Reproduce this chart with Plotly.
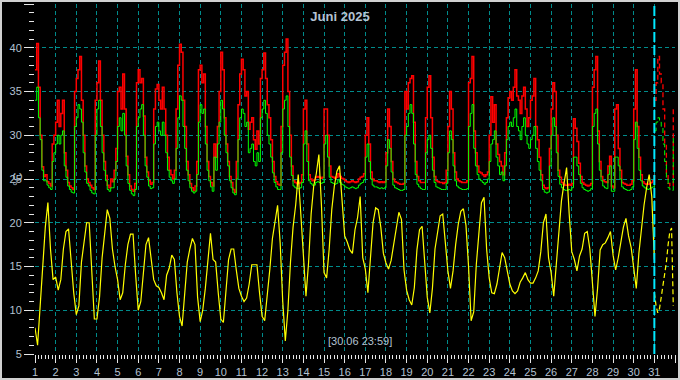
import pandas as pd
import plotly.graph_objects as go

# ---------------- data ----------------
month_start = "2025-06-01"
now_label = "[30.06 23:59]"
title_text = "Juni 2025"
unit_label = "°C"
now_day = 31  # day axis position of 30.06 23:59 end

# red series, 2-hourly values 01.06 00:00 ... 01.07 00:00
red = [
    37.5, 40.5, 35.5, 30, 26.4, 25.3, 25.5, 24.7, 24.5, 24.2, 29, 30,
    31.5, 34, 31, 32.5, 34, 28, 26, 24.6, 24.2, 24, 23.8, 35,
    36.5, 37.5, 39, 34, 30, 26.5, 25, 24.6, 24.3, 24, 23.8, 34,
    36, 38.5, 34, 30, 27, 25.4, 24.3, 24, 25, 24.7, 26, 28.5,
    35, 35.5, 33, 37, 33, 27.6, 25.5, 24.2, 23.8, 23.6, 24.5, 36,
    37.5, 36, 36.5, 32.2, 27.5, 25.8, 24.8, 24.4, 24.6, 33, 35.3, 35.8,
    34, 33, 35.5, 33, 30, 27.5, 26, 25.5, 25, 26, 33, 38,
    40.4, 39.5, 34, 31, 27, 25.5, 24.5, 24, 23.7, 24.2, 27, 37.5,
    38, 36, 37, 31, 27, 25.3, 24.6, 24.2, 29, 27.5, 31, 35,
    39.5, 37.5, 32, 29, 27, 25.3, 24.6, 23.8, 23.5, 27, 33.5, 37,
    38.7, 37.5, 34.5, 35, 30.7, 31.5, 32, 29.5, 28.4, 30.5, 29, 36.5,
    37.5, 39.4, 36.5, 33.5, 32, 29.5, 27, 25.3, 24.7, 24.4, 24.3, 31,
    38, 39.5, 41, 35, 30, 26.5, 24.8, 24.6, 24.5, 24.5, 24.6, 25.5,
    33, 34, 29, 25.5, 25, 24.8, 24.9, 25.2, 25.3, 25.2, 25.1, 25.2,
    33, 33, 30, 26.5, 25.3, 25.2, 25.1, 25.2, 25.6, 25.3, 25.1, 25,
    24.8, 24.7, 24.6, 24.7, 24.8, 24.7, 24.6, 24.7, 25, 25.2, 25.3, 25.6,
    30, 32, 29, 25.8, 25, 24.8, 24.8, 24.7, 24.6, 24.7, 24.6, 24.7,
    28, 33, 31, 27, 25, 24.7, 24.6, 24.5, 24.4, 24.4, 24.5, 35,
    33, 36, 36.5, 36.8, 31.5, 27, 25.3, 24.8, 24.6, 24.6, 24.6, 32,
    35.5, 36.8, 32, 27.5, 25.3, 24.8, 24.7, 24.6, 24.6, 24.5, 24.6, 26,
    31, 35, 33, 28, 25.8, 25, 24.8, 24.7, 24.6, 24.6, 24.6, 24.8,
    36, 36.5, 39, 30.5, 28, 26.5, 25.8, 25.7, 25.5, 25.3, 25.5, 25.8,
    30, 34.4, 31.5, 33.5, 29, 27.8, 27, 26.5, 25.5, 28, 32, 34.3,
    35, 34, 35.5, 37.5, 34.5, 34, 32.5, 34.5, 35.5, 33, 31, 32,
    34, 34.5, 36.5, 31, 29.5, 27.5, 25.5, 24.3, 24, 23.9, 24, 28.5,
    33, 36, 35, 30, 26, 25.2, 24.6, 24.4, 24.3, 24.3, 24.4, 24.3,
    24.5, 31.9, 30.8, 29.3, 26.8, 25.3, 24.6, 24.4, 24.3, 24.2, 24.3, 24.5,
    35.5, 37.5, 39, 30.5, 27, 25.3, 24.8, 24.7, 24.6, 26.5, 27.6, 24.2,
    24, 33, 33.5, 28.5, 26, 24.6, 24.5, 24.4, 24.3, 24.3, 24.4, 24.8,
    33, 37.5, 31, 27.5, 25.5, 24.7, 24.5, 24.4, 24.4, 24.5, 24.6, 24.8,
    25.5,
]

# green series, same 2-hourly timestamps
green = [
    34, 35.5, 32, 29.5, 26, 24.8, 24.8, 24.3, 24, 23.8, 27, 28,
    29, 30, 29, 30, 30.5, 26.5, 25.2, 24.2, 23.8, 23.5, 23.4, 31,
    32, 33.5, 33, 31.5, 28, 25.8, 24.5, 24.2, 23.7, 23.4, 23.3, 30,
    33, 34, 31, 28, 26, 24.8, 23.8, 23.6, 24, 24, 25, 27,
    31, 32, 30.5, 32.5, 30, 26.5, 24.5, 23.7, 23.3, 23.1, 23.8, 31,
    32, 33, 33.5, 30, 26.5, 25.2, 24.2, 23.9, 24, 29, 31, 31.5,
    30.5, 30, 31.5, 30, 28, 26, 25.2, 24.8, 24.5, 25, 28.5, 32,
    34.5, 34, 31, 28.5, 26, 24.8, 24, 23.6, 23.4, 23.6, 25.5, 31.5,
    33.5, 32.5, 33, 29, 26, 24.8, 24.1, 23.6, 27.5, 26, 29, 31.5,
    34, 33, 30, 28, 26.5, 24.8, 24, 23.4, 23.2, 25, 29.5, 32,
    33, 32.5, 31, 31.5, 28, 28.5, 29, 27, 26.5, 28, 27, 32,
    33, 34, 32.5, 30, 29, 27.5, 25.7, 24.6, 24.1, 23.8, 23.8, 28,
    33, 34, 34.5, 31, 27.5, 25.4, 24.2, 24, 23.9, 23.9, 24, 24.6,
    29, 30.5, 27, 24.8, 24.5, 24.3, 24.3, 24.6, 24.7, 24.6, 24.5, 24.6,
    29, 30, 27.5, 25.2, 24.6, 24.5, 24.4, 24.5, 24.9, 24.6, 24.4, 24.3,
    24.1, 24, 23.9, 24, 24.1, 24, 23.9, 24, 24.3, 24.5, 24.6, 24.9,
    27.5, 29, 27, 25, 24.3, 24.1, 24.1, 24, 23.9, 24, 23.9, 24,
    26.5, 29.5, 28.5, 25.8, 24.3, 24, 23.9, 23.8, 23.7, 23.7, 23.8, 30,
    31, 32.5, 33.5, 32.5, 29, 25.5, 24.4, 24.1, 23.9, 23.8, 23.8, 28,
    29.5, 30, 28.5, 26, 24.6, 24.1, 24, 23.9, 23.8, 23.8, 23.8, 24.5,
    28, 30.5, 29.5, 26.5, 24.8, 24.2, 24, 23.9, 23.8, 23.8, 23.8, 23.9,
    31, 32.5, 33.5, 28.5, 26.5, 25.5, 25, 24.8, 24.6, 24.4, 24.6, 25,
    27, 29, 29.5, 30.5, 27.5, 26.5, 25.5, 25.8, 24.8, 26.5, 29.5, 31,
    31.5, 31, 32, 33, 31, 30.5, 29.5, 31, 32, 30, 29, 28.5,
    29.5, 30, 31, 28.5, 27, 26, 24.8, 23.8, 23.5, 23.4, 23.5, 26.5,
    30, 32, 31, 28, 25.3, 24.4, 24, 23.8, 23.7, 23.7, 23.8, 23.7,
    24, 27.5, 27.5, 26.5, 25.5, 24.5, 24, 23.8, 23.7, 23.6, 23.7, 23.9,
    31, 32.5, 33, 29, 26, 24.8, 24.2, 24, 23.9, 25.5, 26.5, 23.6,
    23.6, 27.5, 27.5, 26.5, 25, 24.1, 23.9, 23.8, 23.7, 23.7, 23.8, 24.1,
    29.5, 31.5, 28.5, 26, 24.8, 24.2, 24, 23.9, 23.8, 23.9, 24, 24.1,
    24.5,
]

# yellow series, 3-hourly values 01.06 00:00 ... 01.07 00:00
yellow = [
    8.0, 6.0, 10.5, 14.5, 19.5, 22.3, 17, 13.5,
    13.8, 12.3, 13.5, 17, 19, 19.3, 15.3, 12,
    9.5, 10.5, 15.5, 18, 20, 20, 14, 9,
    9, 11.5, 16, 19, 21.5, 20.5, 17, 15,
    13.5, 11.2, 12, 15.2, 17.5, 18.7, 18.7, 14,
    10, 11, 14.5, 17.5, 18.3, 16, 13.5, 12.8,
    12.6, 12, 11.2, 14, 14.8, 16.3, 15.8, 12,
    9.3, 8.2, 11.5, 15.5, 17, 18.2, 17.5, 11.5,
    8.7, 10, 12.5, 16, 18.8, 15.8, 15.5, 12,
    9, 8.6, 12.5, 15.8, 17, 17, 14.6, 12.5,
    11.6, 11, 11.4, 13, 15.2, 15.2, 15.2, 12,
    9.3, 8.8, 11.5, 14.7, 18.2, 20, 22, 17.7,
    11, 6.5, 10, 15.5, 19.5, 22, 25.5, 21,
    15.5, 11.6, 15.4, 21, 24.2, 25.6, 27.8, 22,
    14.3, 13.7, 17, 21.5, 24.2, 25.9, 26.5, 22.5,
    18.5, 17.8, 16.9, 16.5, 19.2, 20.6, 23, 16,
    14.7, 12, 16.2, 20, 21.7, 21.5, 19.5, 16.5,
    15.4, 14.7, 15.7, 17.5, 19.2, 21.2, 20.4, 14.6,
    12.3, 11.2, 10.6, 12.6, 16.9, 19.2, 19.6, 16,
    11.5, 9.7, 12.5, 17, 19.2, 20.8, 21, 17.7,
    14.5, 12.5, 14.5, 17.5, 19.8, 21.3, 21.6, 19.7,
    15, 8.8, 9.8, 15.2, 19, 22.3, 22.9, 17,
    13.7, 12, 11.9, 13, 14.8, 16.6, 16, 14.3,
    13, 12.2, 11.9, 12.2, 13.2, 13.7, 14.3, 13.5,
    13.1, 13.1, 13.7, 14.5, 16.7, 20, 21, 16,
    14.3, 11.6, 15.5, 18.5, 22.5, 24.5, 26.3, 21,
    16.7, 15.8, 14.5, 16.2, 17, 18.8, 19, 17,
    12.5, 9.3, 12.5, 16.9, 17.5, 17.7, 18.3, 19,
    16.3, 14.6, 16, 18, 19.5, 20.5, 18.5, 17.2,
    14.7, 12.5, 16.5, 19.5, 22, 24, 25.5, 23,
    15.8,
]

# dashed continuation (01.07), 2-hourly
red_next = [34, 36, 39, 37, 36, 33, 29, 25.5, 24.5, 24.2, 24.2, 33]
green_next = [30.5, 31.5, 32, 31.5, 31, 29, 27, 25, 24, 23.7, 23.7, 30]
yellow_next = [12, 10.5, 9.7, 10.2, 11.5, 12.8, 14, 15.5, 17.5, 19, 19.4, 10.5]


# ---------------- helpers ----------------
def day_axis(start, n, freq):
    ts = pd.date_range(start, periods=n, freq=freq)
    return list(1 + (ts - pd.Timestamp(month_start)) / pd.Timedelta(days=1))


x_rg = day_axis(month_start, len(red), "2h")
x_y = day_axis(month_start, len(yellow), "3h")
x_next = day_axis("2025-07-01", len(red_next), "2h")

RED, GREEN, YELLOW = "#ff0000", "#00ff00", "#ffff00"
GRID = "#008b8b"
TXT = "#b4c2d2"
TICK = "#e6e6e6"
FONT = "Liberation Sans, Arial, sans-serif"

fig = go.Figure()
fig.add_trace(go.Scatter(x=x_rg, y=red, mode="lines",
                         line=dict(color=RED, width=1.5, shape="hv")))
fig.add_trace(go.Scatter(x=x_rg, y=green, mode="lines",
                         line=dict(color=GREEN, width=1, shape="hv")))
fig.add_trace(go.Scatter(x=x_y, y=yellow, mode="lines",
                         line=dict(color=YELLOW, width=1.2)))
fig.add_trace(go.Scatter(x=x_next, y=red_next, mode="lines",
                         line=dict(color=RED, width=1.3, dash="5px,3px", shape="hv")))
fig.add_trace(go.Scatter(x=x_next, y=green_next, mode="lines",
                         line=dict(color=GREEN, width=1, dash="5px,3px", shape="hv")))
fig.add_trace(go.Scatter(x=x_next, y=yellow_next, mode="lines",
                         line=dict(color=YELLOW, width=1.2, dash="5px,3px")))

fig.add_shape(type="line", x0=now_day, x1=now_day, y0=0, y1=1, yref="paper",
              line=dict(color="#00e8ff", width=2, dash="10px,3px"))

# outer frame of the picture
fig.add_shape(type="rect", xref="paper", yref="paper",
              x0=(1 - 35) / 640, x1=(679 - 35) / 640,
              y0=(354 - 379) / 350, y1=(354 - 1) / 350,
              line=dict(color="#d0d0d0", width=2), fillcolor="rgba(0,0,0,0)")

fig.add_annotation(text=now_label, xref="paper", yref="paper",
                   x=(359.5 - 35) / 640, y=(354 - 349) / 350,
                   showarrow=False, font=dict(family=FONT, size=11, color=TXT))
fig.add_annotation(text=unit_label, xref="paper", yref="paper",
                   x=(9 - 35) / 640, y=(354 - 179) / 350, textangle=-90,
                   showarrow=False, font=dict(family=FONT, size=12, color=TXT))

fig.update_layout(
    width=680, height=380,
    paper_bgcolor="black", plot_bgcolor="black",
    margin=dict(l=35, r=5, t=4, b=26, pad=0),
    showlegend=False,
    title=dict(text=title_text, x=0.5, xref="container", xanchor="center",
               y=1 - 16.7 / 380, yref="container", yanchor="middle",
               font=dict(family=FONT, size=13, color=TXT, weight="bold")),
    xaxis=dict(range=[1, 32], tickmode="linear", tick0=1, dtick=1,
               ticks="outside", ticklen=8, tickwidth=1, tickcolor=TICK,
               showgrid=True, gridcolor=GRID, gridwidth=1, griddash="4px,3px",
               zeroline=False, showline=False, automargin=False,
               tickfont=dict(family=FONT, size=11, color=TXT),
               minor=dict(dtick=1 / 6, tick0=1, ticks="outside", ticklen=4,
                          tickwidth=1, tickcolor=TICK, showgrid=False)),
    yaxis=dict(range=[5, 45], tickmode="linear", tick0=5, dtick=5,
               ticks="outside", ticklen=10, tickwidth=1, tickcolor=TICK,
               showgrid=True, gridcolor=GRID, gridwidth=1, griddash="4px,3px",
               zeroline=False, showline=False, automargin=False,
               tickfont=dict(family=FONT, size=11, color=TXT),
               minor=dict(dtick=1, tick0=5, ticks="outside", ticklen=5,
                          tickwidth=1, tickcolor=TICK, showgrid=False)),
)

fig.write_html("out.html",
               config={"displayModeBar": False},
               post_script="document.body.style.margin='0px';"
                           "document.body.style.overflow='hidden';")
